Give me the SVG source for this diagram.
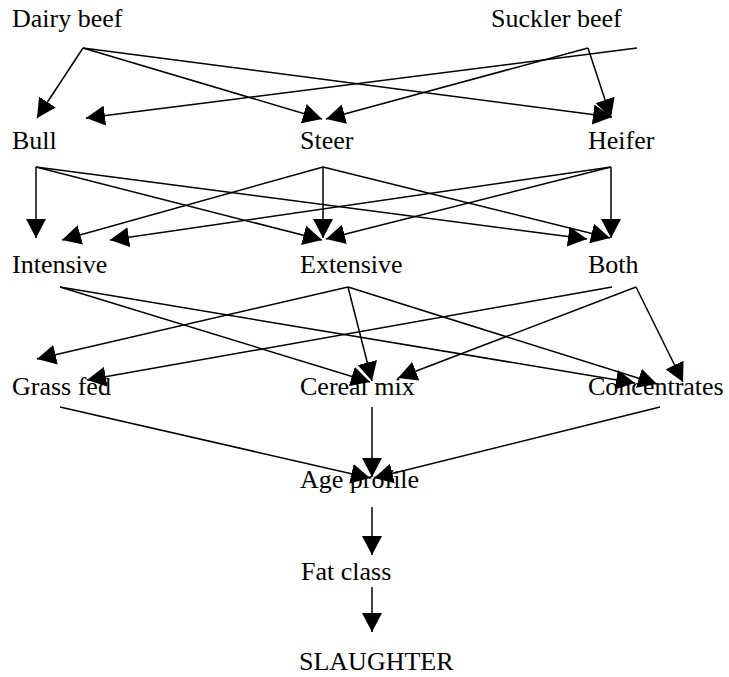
<svg xmlns="http://www.w3.org/2000/svg" width="729" height="677" viewBox="0 0 729 677">
<style>
  .lbl { font-family: "Liberation Serif", "Times New Roman", serif; font-size: 26px; fill: #000; }
  .conn { stroke: #000; stroke-width: 1.5; fill: none; marker-end: url(#ah); }
</style>
<defs>
  <marker id="ah" markerUnits="userSpaceOnUse" markerWidth="19" markerHeight="20" refX="19" refY="10" orient="auto" viewBox="0 0 19 20">
    <path d="M0,0 L19,10 L0,20 Z" fill="#000"/>
  </marker>
</defs>
<rect width="729" height="677" fill="#fff"/>
<g id="connectors">
  <path class="conn" d="M83,48 L37,118"/>
  <path class="conn" d="M83,48 L322,119"/>
  <path class="conn" d="M83,48 L612,117"/>
  <path class="conn" d="M637,48 L86,118"/>
  <path class="conn" d="M588,48 L326,119"/>
  <path class="conn" d="M588,48 L611,118"/>

  <path class="conn" d="M36,167 L36,238"/>
  <path class="conn" d="M36,167 L322,240"/>
  <path class="conn" d="M36,167 L587,239"/>
  <path class="conn" d="M323,167 L62,240"/>
  <path class="conn" d="M323,167 L323,238"/>
  <path class="conn" d="M323,167 L610,238"/>
  <path class="conn" d="M611,167 L110,240"/>
  <path class="conn" d="M611,167 L326,239"/>
  <path class="conn" d="M611,167 L611,238"/>

  <path class="conn" d="M60,287 L370,382"/>
  <path class="conn" d="M60,287 L635,383"/>
  <path class="conn" d="M348,287 L37,359"/>
  <path class="conn" d="M348,287 L372,381"/>
  <path class="conn" d="M348,287 L657,384"/>
  <path class="conn" d="M612,287 L87,380"/>
  <path class="conn" d="M636,287 L398,378"/>
  <path class="conn" d="M636,287 L683,382"/>

  <path class="conn" d="M60,407 L370,478"/>
  <path class="conn" d="M372,407 L372,477"/>
  <path class="conn" d="M660,407 L374,478"/>
  <path class="conn" d="M372,507 L372,555"/>
  <path class="conn" d="M372,587 L372,632"/>
</g>
<g id="dairy-beef"><text class="lbl" x="12" y="27">Dairy beef</text></g>
<g id="suckler-beef"><text class="lbl" x="491" y="27">Suckler beef</text></g>
<g id="bull"><text class="lbl" x="12" y="149">Bull</text></g>
<g id="steer"><text class="lbl" x="300" y="149">Steer</text></g>
<g id="heifer"><text class="lbl" x="588" y="149">Heifer</text></g>
<g id="intensive"><text class="lbl" x="12" y="273">Intensive</text></g>
<g id="extensive"><text class="lbl" x="300" y="273">Extensive</text></g>
<g id="both"><text class="lbl" x="588" y="273">Both</text></g>
<g id="grass-fed"><text class="lbl" x="12" y="395">Grass fed</text></g>
<g id="cereal-mix"><text class="lbl" x="300" y="395">Cereal mix</text></g>
<g id="concentrates"><text class="lbl" x="588" y="395">Concentrates</text></g>
<g id="age-profile"><text class="lbl" x="300" y="488">Age profile</text></g>
<g id="fat-class"><text class="lbl" x="301" y="580">Fat class</text></g>
<g id="slaughter"><text class="lbl" x="299" y="670">SLAUGHTER</text></g>
</svg>
